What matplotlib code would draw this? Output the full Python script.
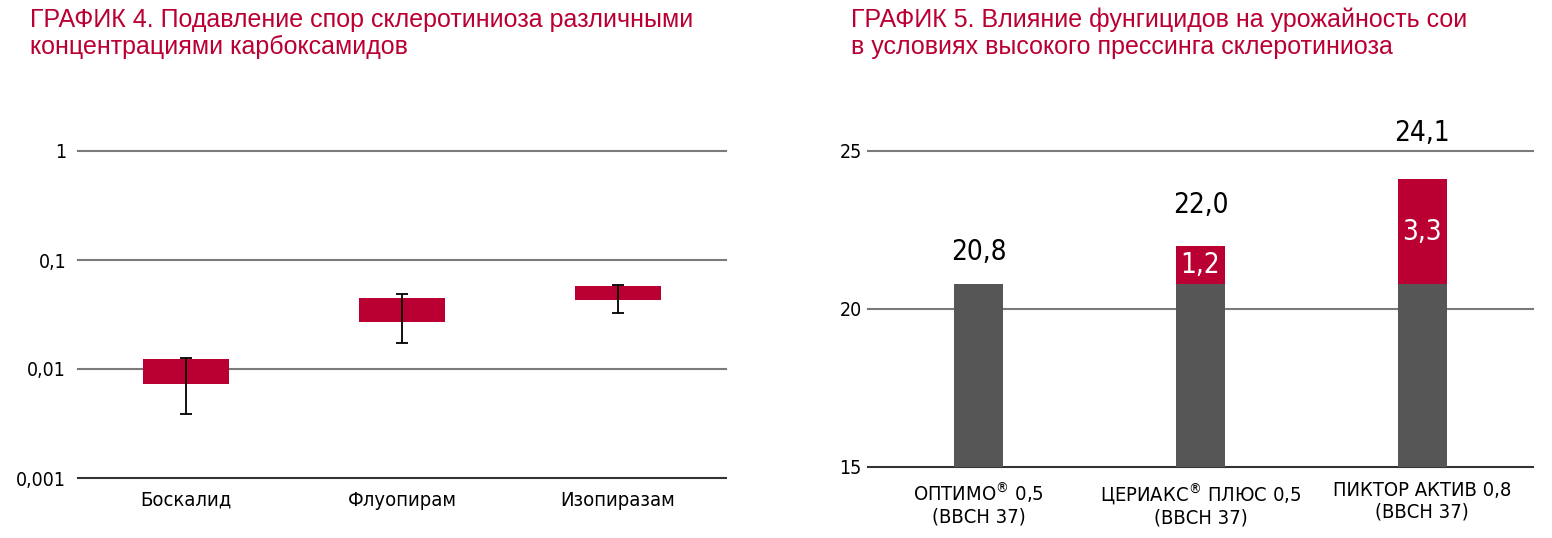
import numpy as np
import matplotlib
matplotlib.use("Agg")
import matplotlib.pyplot as plt

plt.rcParams.update({"font.family": ["DejaVu Sans"], "font.stretch": "condensed"})

RED = "#ba0032"
GRAY = "#565656"
GRID = "#7a7a7a"

# chart 4: spore suppression (log scale)
cats4 = ["Боскалид", "Флуопирам", "Изопиразам"]
box_lo = [0.0073, 0.0268, 0.0427]
box_hi = [0.0123, 0.0445, 0.0574]
err_lo = [0.0039, 0.0172, 0.0329]
err_hi = [0.0127, 0.0485, 0.0586]
yticks4 = [0.001, 0.01, 0.1, 1]
ylabels4 = ["0,001", "0,01", "0,1", "1"]

# chart 5: soybean yield
cats5 = ["ОПТИМО$^{®}$ 0,5\n(ВВСН 37)", "ЦЕРИАКС$^{®}$ ПЛЮС 0,5\n(ВВСН 37)",
         "ПИКТОР АКТИВ 0,8\n(ВВСН 37)"]
base = [20.8, 20.8, 20.8]
gain = [0.0, 1.2, 3.3]
totals = ["20,8", "22,0", "24,1"]
gain_labels = ["", "1,2", "3,3"]
yticks5 = [15, 20, 25]
total_gap = [13, 19.5, 23]   # label offset above bar, points

W, H = 1552, 538
fig = plt.figure(figsize=(W / 100, H / 100), dpi=100)

title_kw = dict(color=RED, fontsize=18, family=["Liberation Sans", "DejaVu Sans"],
                fontstretch="normal", va="top", ha="left", linespacing=1.15)
fig.text(30 / W, 1 - 8 / H,
         "ГРАФИК 4. Подавление спор склеротиниоза различными\n"
         "концентрациями карбоксамидов", **title_kw)
fig.text(851 / W, 1 - 8 / H,
         "ГРАФИК 5. Влияние фунгицидов на урожайность сои\n"
         "в условиях высокого прессинга склеротиниоза", **title_kw)

# ---- left chart
ax = fig.add_axes([78 / W, 1 - 478 / H, 648 / W, 327 / H])
ax.set_yscale("log")
ax.set_ylim(0.001, 1)
ax.set_xlim(-0.5, 2.5)
for v in yticks4:
    ax.axhline(v, color="#333333" if v == yticks4[0] else GRID, lw=1.5,
               clip_on=False, zorder=1)
x4 = np.arange(len(cats4))
ax.bar(x4, np.array(box_hi) - np.array(box_lo), bottom=box_lo, width=0.4,
       color=RED, zorder=2)
mid = np.sqrt(np.array(box_lo) * np.array(box_hi))
ax.errorbar(x4, mid, yerr=[mid - np.array(err_lo), np.array(err_hi) - mid],
            fmt="none", ecolor="black", elinewidth=1.3, capsize=4,
            capthick=1.3, zorder=3)
ax.set_yticks(yticks4)
ax.set_yticklabels(ylabels4)
ax.yaxis.set_minor_locator(matplotlib.ticker.NullLocator())
ax.set_xticks(x4)
ax.set_xticklabels(cats4)
ax.tick_params(axis="y", length=0, pad=8.5, labelsize=14)
ax.tick_params(axis="x", length=0, pad=9, labelsize=14.5)
for s in ax.spines.values():
    s.set_visible(False)

# ---- right chart
ax2 = fig.add_axes([868 / W, 1 - 467 / H, 665 / W, 316 / H])
ax2.set_ylim(15, 25)
ax2.set_xlim(-0.5, 2.5)
for v in yticks5:
    ax2.axhline(v, color="#333333" if v == yticks5[0] else GRID, lw=1.5,
                clip_on=False, zorder=1)
x5 = np.arange(len(cats5))
ax2.bar(x5, np.array(base) - 15, bottom=15, width=0.22, color=GRAY, zorder=2)
ax2.bar(x5, gain, bottom=base, width=0.22, color=RED, zorder=2)
for i in range(len(cats5)):
    top = base[i] + gain[i]
    ax2.annotate(totals[i], (x5[i], top), xytext=(0, total_gap[i]),
                 textcoords="offset points", ha="center", va="bottom",
                 fontsize=20, fontweight="medium")
    if gain_labels[i]:
        ax2.text(x5[i], base[i] + gain[i] / 2, gain_labels[i], ha="center",
                 va="center", color="white", fontsize=20)
ax2.set_yticks(yticks5)
ax2.set_xticks(x5)
ax2.set_xticklabels(cats5, linespacing=1.15)
ax2.tick_params(axis="y", length=0, pad=4.5, labelsize=14)
ax2.tick_params(axis="x", length=0, pad=10, labelsize=14.5)
for s in ax2.spines.values():
    s.set_visible(False)

fig.savefig("out.png", dpi=100, facecolor="white")
